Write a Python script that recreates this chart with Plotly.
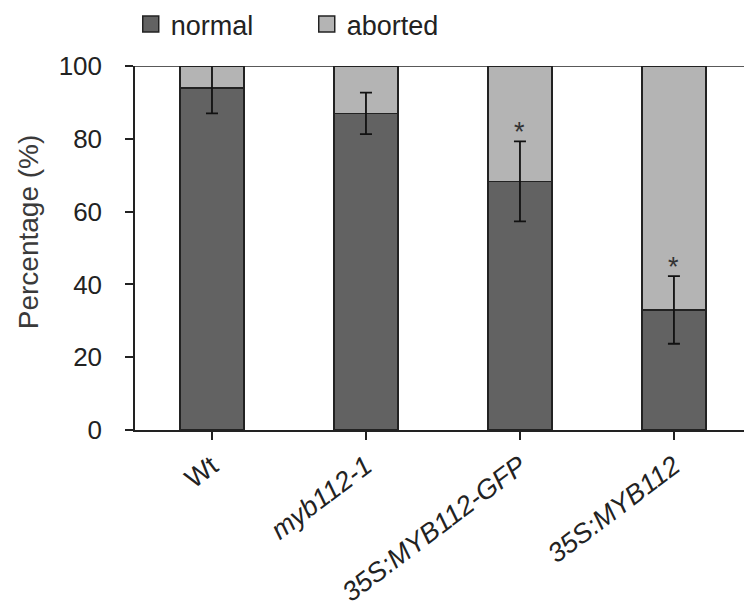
import plotly.graph_objects as go

categories = ["Wt", "<i>myb112-1</i>", "<i>35S:MYB112-GFP</i>", "<i>35S:MYB112</i>"]
normal = [94.0, 87.0, 68.3, 33.0]
normal_err = [7.0, 5.7, 11.0, 9.3]
aborted = [100 - v for v in normal]
significant = [False, False, True, True]

FONT = "Arial, Liberation Sans, sans-serif"
DARK = "#626262"
LIGHT = "#b4b4b4"
EDGE = "#222222"
x = list(range(len(categories)))

fig = go.Figure()
fig.add_trace(go.Bar(
    x=x, y=normal, name="normal", width=0.415, showlegend=False,
    marker=dict(color=DARK, line=dict(color=EDGE, width=1.5)),
))
fig.add_trace(go.Bar(
    x=x, y=aborted, name="aborted", width=0.415, showlegend=False,
    marker=dict(color=LIGHT, line=dict(color=EDGE, width=1.5)),
))
# error bars drawn on top of the stack
fig.add_trace(go.Scatter(
    x=x, y=normal, mode="markers", showlegend=False, hoverinfo="skip",
    marker=dict(color="rgba(0,0,0,0)", size=1),
    error_y=dict(type="data", array=normal_err, symmetric=True,
                 color="#111111", thickness=1.8, width=6),
))
# legend entries
for name, col in [("normal", DARK), ("aborted", LIGHT)]:
    fig.add_trace(go.Scatter(
        x=[None], y=[None], mode="markers", name=name,
        marker=dict(symbol="square", size=16, color=col, line=dict(color=EDGE, width=1.5)),
    ))

for i, s in enumerate(significant):
    if s:
        fig.add_annotation(x=x[i], y=normal[i] + normal_err[i], text="*",
                           showarrow=False, yanchor="bottom", yshift=-8,
                           font=dict(size=27, color="#333333", family=FONT))

fig.add_annotation(xref="paper", yref="paper", x=-0.1757, y=0.546,
                   text="Percentage (%)", textangle=-90, showarrow=False,
                   xanchor="center", yanchor="middle",
                   font=dict(size=28, color="#3a3a3a", family=FONT))

fig.add_shape(type="line", xref="paper", yref="y", x0=0, x1=1, y0=100, y1=100,
              line=dict(color=EDGE, width=1.5), layer="above")

fig.update_layout(
    width=744, height=612,
    margin=dict(l=135, r=0, t=64, b=182),
    barmode="stack",
    plot_bgcolor="white", paper_bgcolor="white",
    font=dict(family=FONT, size=26, color="#222222"),
    showlegend=True,
    legend=dict(orientation="h", x=-0.007, xanchor="left", y=1.115, yanchor="middle",
                font=dict(size=27, color="#222222"), traceorder="normal",
                itemsizing="trace", entrywidth=131, bgcolor="rgba(0,0,0,0)"),
    xaxis=dict(range=[-0.5, 3.455], tickmode="array", tickvals=x, ticktext=categories,
               tickangle=-37, showline=True, linecolor=EDGE, linewidth=1.5,
               ticks="outside", ticklen=8, tickcolor=EDGE, tickwidth=1.5,
               tickson="boundaries", showgrid=False, zeroline=False,
               tickfont=dict(size=27, color="#222222")),
    yaxis=dict(range=[0, 100], tickmode="linear", tick0=0, dtick=20,
               showline=True, linecolor=EDGE, linewidth=1.5,
               ticks="outside", ticklen=8, tickcolor=EDGE, tickwidth=1.5,
               showgrid=False, zeroline=False, ticklabelstandoff=18,
               tickfont=dict(size=26, color="#222222")),
)

fig.write_html("out.html")
